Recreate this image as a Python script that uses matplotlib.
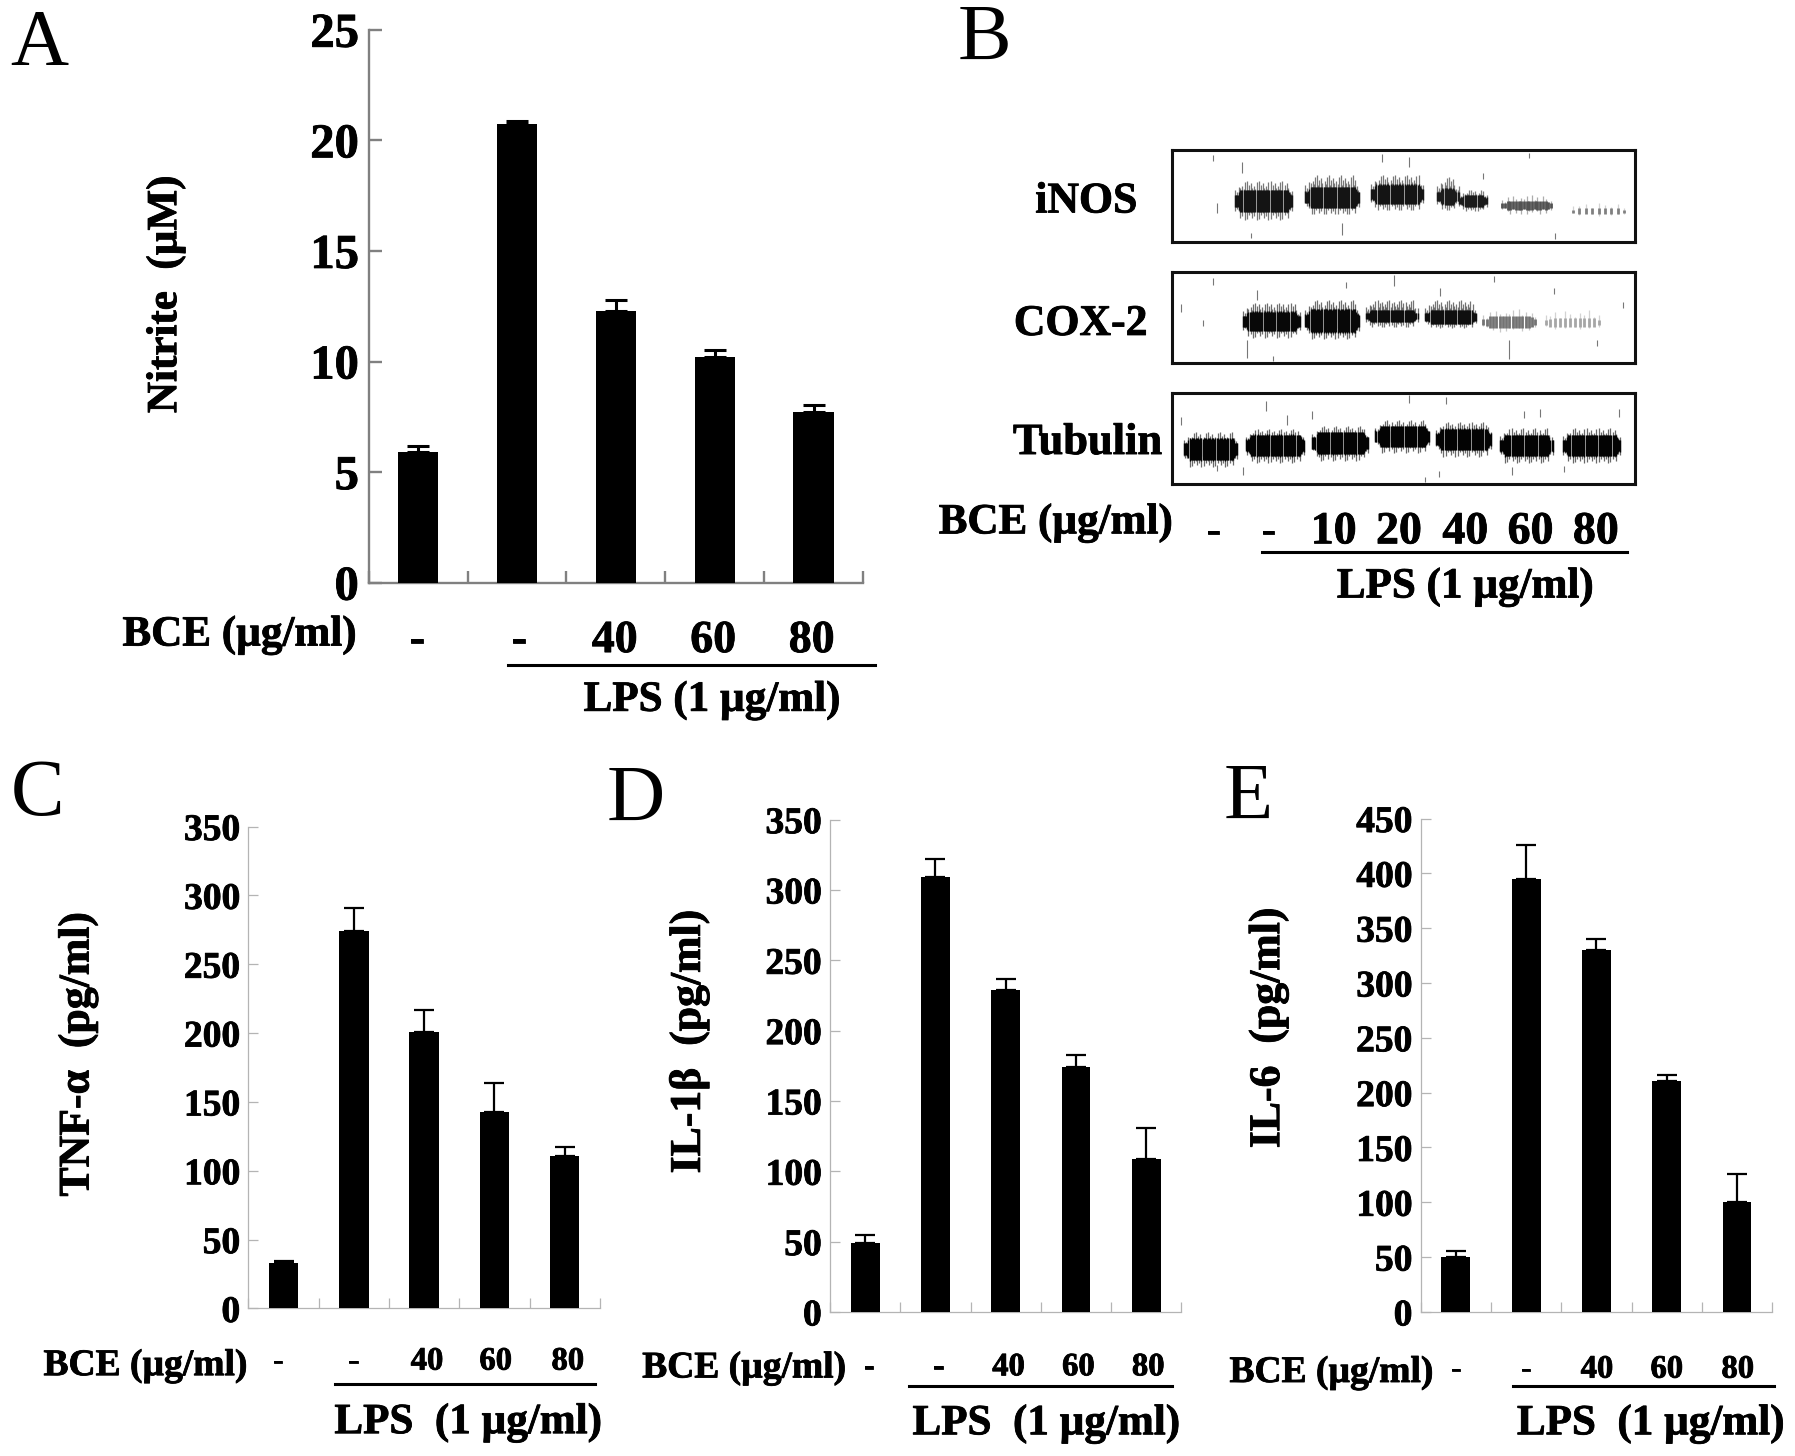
import numpy as np
import matplotlib
matplotlib.use("Agg")
import matplotlib.pyplot as plt
import matplotlib.patheffects as pe

plt.rcParams['font.family'] = ['Liberation Serif', 'DejaVu Serif']
plt.rcParams['font.weight'] = 'bold'

W, H = 1795, 1456
S = W / 1568.0

# ---- data ----
nitrite_vals = [5.9, 20.75, 12.3, 10.2, 7.7]
nitrite_tops = [6.2, 20.88, 12.8, 10.5, 8.05]
tnf_vals = [33, 274, 201, 143, 111]
tnf_tops = [34.5, 291, 217, 164, 117]
il1_vals = [49, 309, 229, 174, 109]
il1_tops = [55, 322, 237, 183, 131]
il6_vals = [50, 395, 330, 211, 100]
il6_tops = [56, 426, 340, 216, 126]
dose_labels = ['-', '-', '40', '60', '80']
blot_doses = ['-', '-', '10', '20', '40', '60', '80']

# blot bands: x0, x1, y0, y1 (outer), core y0, core y1, grey level of core, comb step
inos_bands = [
    (530, 638, 460, 558, 482, 538, 0.08, 2),
    (660, 762, 446, 544, 474, 528, 0.08, 2),
    (782, 880, 446, 534, 468, 518, 0.08, 2),
    (904, 945, 450, 534, 478, 520, 0.10, 2),
    (945, 998, 482, 536, 494, 526, 0.10, 2),
    (1025, 1118, 496, 544, 510, 532, 0.32, 5),
    (1155, 1255, 512, 548, 528, 544, 0.50, 12),
]
cox_bands = [
    (545, 652, 766, 854, 788, 838, 0.03, 2),
    (660, 762, 760, 858, 782, 842, 0.03, 2),
    (772, 870, 760, 828, 785, 815, 0.05, 2),
    (882, 978, 760, 830, 785, 820, 0.06, 2),
    (990, 1088, 783, 840, 800, 830, 0.45, 6),
    (1105, 1210, 783, 834, 805, 828, 0.65, 9),
]
tub_bands = [
    (436, 536, 1094, 1180, 1108, 1164, 0.01, 2),
    (550, 660, 1086, 1170, 1099, 1154, 0.01, 2),
    (673, 778, 1078, 1164, 1092, 1149, 0.01, 2),
    (790, 892, 1064, 1144, 1077, 1131, 0.01, 2),
    (902, 1006, 1068, 1154, 1084, 1139, 0.01, 2),
    (1020, 1120, 1084, 1170, 1100, 1154, 0.01, 2),
    (1137, 1245, 1084, 1170, 1100, 1154, 0.01, 2),
]
inos_specks = [(490, 395, 410), (543, 412, 440), (802, 392, 412), (852, 400, 425), (728, 565, 595),
               (497, 515, 540), (1075, 390, 402), (1123, 590, 605), (560, 590, 604), (990, 440, 455)]
cox_specks = [(552, 860, 905), (570, 735, 760), (825, 697, 725), (1038, 860, 908), (1248, 765, 780),
              (430, 770, 790), (490, 705, 722), (600, 900, 912), (735, 715, 728), (910, 730, 750),
              (1010, 700, 715), (1120, 730, 745), (470, 810, 825), (1200, 860, 875)]
tub_specks = [(588, 1015, 1040), (627, 1050, 1075), (672, 1040, 1060), (852, 1002, 1020), (920, 1005, 1022),
              (1065, 1040, 1058), (1095, 1035, 1055), (1240, 1035, 1055), (430, 1055, 1075), (497, 1175, 1190),
              (545, 1180, 1200), (908, 1190, 1205), (1140, 1178, 1192), (1043, 1180, 1200), (882, 1205, 1218)]

fig = plt.figure(figsize=(W / 100, H / 100), dpi=100, facecolor='white')
thick = [pe.withStroke(linewidth=0.6, foreground='black')]


def axpx(x0, x1, y_top, y_bot):
    l, r = x0 * S / W, x1 * S / W
    t, b = 1 - y_top * S / H, 1 - y_bot * S / H
    return fig.add_axes([l, b, r - l, t - b])


def T(x, y, s, size, ha='center', rot=0, weight='bold', **kw):
    dy = 2 if rot == 0 and weight == 'bold' else 0
    t = fig.text(x * S / W, 1 - (y + dy) * S / H, s, fontsize=size, ha=ha, va='center', rotation=rot,
                 weight=weight, color='black', **kw)
    if weight == 'bold':
        t.set_path_effects(thick)


def hline(x0, x1, y, lw=2.2):
    fig.add_artist(plt.Line2D([x0 * S / W, x1 * S / W], [1 - y * S / H] * 2, color='black', lw=lw))


def panel(box, vals, tops, ymax, step, width, axcolor, axlw, ticksize, ticklen, elw, cap, pad=6):
    ax = axpx(*box)
    x = np.arange(5)
    v = np.array(vals, float)
    ax.bar(x, v, width=width, color='black', zorder=3)
    ax.errorbar(x, v, yerr=[np.zeros(5), np.array(tops, float) - v], fmt='none', ecolor='black',
                elinewidth=elw, capsize=cap, capthick=elw, zorder=2, clip_on=False)
    ax.set_xlim(-0.5, 4.5)
    ax.set_ylim(0, ymax)
    ax.set_yticks(np.arange(0, ymax + step, step))
    ax.set_xticks(np.arange(-0.5, 5, 1))
    ax.set_xticklabels([])
    for s in ('top', 'right'):
        ax.spines[s].set_visible(False)
    for s in ('left', 'bottom'):
        ax.spines[s].set_color(axcolor)
        ax.spines[s].set_linewidth(axlw)
    ax.tick_params(axis='both', direction='in', length=ticklen, width=axlw, color=axcolor)
    ax.tick_params(axis='y', labelsize=ticksize, pad=pad)
    for lab in ax.get_yticklabels():
        lab.set_path_effects(thick)
    return ax


# ---- Panel A ----
panel((322, 754, 26, 509), nitrite_vals, nitrite_tops, 25, 5, 0.41, '#808080', 1.7, 35, 9, 2.2, 8, pad=7)
T(34, 40, 'A', 58, weight='normal')
T(145, 257, 'Nitrite  (µM)', 31, rot=90)
T(107, 553, 'BCE (µg/ml)', 31, ha='left')
for xp, lab in zip([364, 453, 537, 623, 709], dose_labels):
    T(xp, 558, lab, 33)
hline(444, 764, 581)
T(622, 610, 'LPS (1 µg/ml)', 31)

# ---- Panel C ----
panel((217, 524, 722, 1143), tnf_vals, tnf_tops, 350, 50, 0.42, '#b4b4b4', 0.9, 27, 7, 1.6, 7)
T(33, 695, 'C', 58, weight='normal')
T(68, 921, 'TNF-α  (pg/ml)', 31.5, rot=90)
T(38, 1191, 'BCE (µg/ml)', 27, ha='left')
for xp, lab in zip([243, 309, 373, 433, 496], dose_labels):
    T(xp, 1187, lab, 23.5)
hline(293, 520, 1209)
T(409, 1241, 'LPS  (1 µg/ml)', 31)

# ---- Panel D ----
panel((725, 1032, 716, 1146), il1_vals, il1_tops, 350, 50, 0.41, '#b4b4b4', 0.9, 27, 7, 1.6, 7)
T(555, 700, 'D', 58, weight='normal')
T(602, 910, 'IL-1β  (pg/ml)', 31.5, rot=90)
T(561, 1193, 'BCE (µg/ml)', 27, ha='left')
for xp, lab in zip([759, 820, 881, 942, 1003], dose_labels):
    T(xp, 1192, lab, 23.5)
hline(794, 1024, 1211)
T(914, 1242, 'LPS  (1 µg/ml)', 31)

# ---- Panel E ----
panel((1241, 1548, 715, 1146), il6_vals, il6_tops, 450, 50, 0.41, '#b4b4b4', 0.9, 27, 7, 1.6, 7)
T(1090, 698, 'E', 58, weight='normal')
T(1108, 898, 'IL-6  (pg/ml)', 31.5, rot=90)
T(1074, 1197, 'BCE (µg/ml)', 27, ha='left')
for xp, lab in zip([1272, 1333, 1395, 1456, 1518], dose_labels):
    T(xp, 1194, lab, 23.5)
hline(1322, 1550, 1211)
T(1442, 1242, 'LPS  (1 µg/ml)', 31)

# ---- Panel B (blots) ----
comb = [1.0, 0.55, 0.8, 0.35, 0.9, 0.65, 0.45, 0.75, 0.6, 0.95, 0.4]


def blot(box_px, ylim, bands, specks):
    ax = axpx(*box_px)
    ax.set_xlim(414, 1270)
    ax.set_ylim(ylim[1], ylim[0])
    ax.set_xticks([])
    ax.set_yticks([])
    for s in ax.spines.values():
        s.set_linewidth(2.2)
        s.set_color('#111111')
    for (x0, x1, y0, y1, c0, c1, g, st) in bands:
        xs = np.arange(x0, x1, st)
        pat = np.array([comb[i % len(comb)] for i in range(len(xs))])
        # soften the two ends of every band
        edge = np.clip(np.minimum(xs - x0, x1 - xs) / 10.0, 0.55, 1.0)
        mid = (c0 + c1) / 2
        grey = str(min(g + 0.3, 0.8))
        ax.vlines(xs, mid - (mid - y0) * pat * edge, mid + (y1 - mid) * pat[::-1] * edge,
                  color=grey, lw=0.9, alpha=0.85)
        lw = 1.0 if st <= 2 else 2.0
        ax.vlines(xs, mid - (mid - c0) * edge * (0.92 + 0.08 * pat),
                  mid + (c1 - mid) * edge * (0.92 + 0.08 * pat[::-1]),
                  color=str(g), lw=lw, zorder=3)
    for (x, a, b) in specks:
        ax.vlines(x, a, b, color='#777777', lw=0.8)
    return ax


blot((1024, 1428, 131, 211), (382, 612), inos_bands, inos_specks)
blot((1024, 1428, 238, 317), (690, 918), cox_bands, cox_specks)
blot((1024, 1428, 343, 423), (995, 1223), tub_bands, tub_specks)
T(860, 35, 'B', 58, weight='normal')
T(949, 174, 'iNOS', 31.5)
T(944, 281, 'COX-2', 31.5)
T(950, 385, 'Tubulin', 32)
T(820, 455, 'BCE (µg/ml)', 31, ha='left')
for xp, lab in zip([1060, 1108, 1165, 1222, 1280, 1337, 1394], blot_doses):
    T(xp, 463, lab, 33)
hline(1102, 1421, 482)
T(1280, 511, 'LPS (1 µg/ml)', 31)

fig.savefig('out.png', dpi=100)
